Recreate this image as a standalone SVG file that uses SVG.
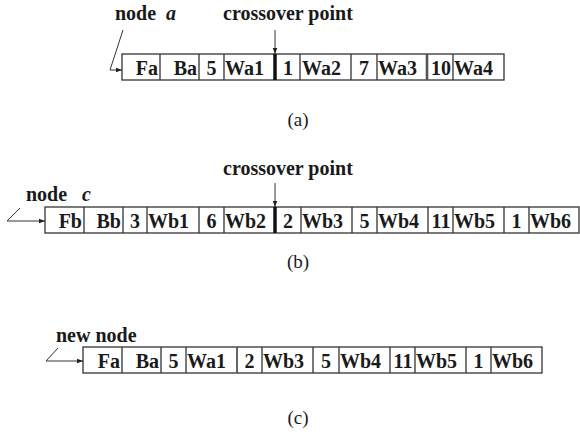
<svg xmlns="http://www.w3.org/2000/svg" width="580" height="437" viewBox="0 0 580 437">
<style>
text{font-family:"Liberation Serif","Times New Roman",serif;font-size:20px;fill:#1a1a1a}
.b{font-weight:bold}
.i{font-style:italic;font-weight:bold}
.e{text-anchor:end}
.m{text-anchor:middle}
.cap{font-size:19px}
.box{fill:#fff;stroke:#333;stroke-width:1.3}
.div{stroke:#333;stroke-width:1.3}
.thick{stroke:#111;stroke-width:3.5}
.dbl{stroke:#555;stroke-width:2.6}
.con{fill:none;stroke:#333;stroke-width:1}
</style>
<defs>
<marker id="ah" viewBox="0 0 8 8" refX="8" refY="4" markerWidth="6" markerHeight="6" orient="auto" markerUnits="userSpaceOnUse">
<path d="M0,1 L8,4 L0,7 z" fill="#222"/>
</marker>
</defs>
<rect width="580" height="437" fill="#fff"/>

<g id="labels">
<text class="b" x="115" y="20">node</text><text class="i" x="166" y="20">a</text>
<text class="b" x="223" y="20">crossover point</text>
<text class="b" x="26" y="201">node</text><text class="i" x="82" y="201">c</text>
<text class="b" x="223" y="175">crossover point</text>
<text class="b" x="56" y="342">new node</text>
<text class="m cap" x="298" y="126">(a)</text>
<text class="m cap" x="298" y="268">(b)</text>
<text class="m cap" x="298" y="424">(c)</text>
</g>

<g id="node-a">
<rect class="box" x="122" y="54" width="382" height="26"/>
<path class="div" d="M160,54V80M199,54V80M224,54V80M300,54V80M351,54V80M377,54V80M453,54V80"/>
<path class="thick" d="M275,54V80"/>
<path class="dbl" d="M427,54V80"/>
<text class="b e" x="158" y="75">Fa</text>
<text class="b e" x="197" y="75">Ba</text>
<text class="b m" x="211.5" y="75">5</text>
<text class="b" x="225" y="75">Wa1</text>
<text class="b m" x="288" y="75">1</text>
<text class="b" x="302" y="75">Wa2</text>
<text class="b m" x="364" y="75">7</text>
<text class="b" x="378" y="75">Wa3</text>
<text class="b m" x="441" y="75">10</text>
<text class="b" x="454" y="75">Wa4</text>
</g>

<g id="node-c">
<rect class="box" x="45" y="207" width="534" height="26"/>
<path class="div" d="M84,207V233M123,207V233M147,207V233M199,207V233M224,207V233M301,207V233M352,207V233M377,207V233M428,207V233M453,207V233M504,207V233M529,207V233"/>
<path class="thick" d="M275,207V233"/>
<text class="b e" x="82" y="228">Fb</text>
<text class="b e" x="121" y="228">Bb</text>
<text class="b m" x="135" y="228">3</text>
<text class="b" x="148" y="228">Wb1</text>
<text class="b m" x="211.5" y="228">6</text>
<text class="b" x="225" y="228">Wb2</text>
<text class="b m" x="288" y="228">2</text>
<text class="b" x="302" y="228">Wb3</text>
<text class="b m" x="364.5" y="228">5</text>
<text class="b" x="378" y="228">Wb4</text>
<text class="b m" x="441" y="228">11</text>
<text class="b" x="454" y="228">Wb5</text>
<text class="b m" x="516.5" y="228">1</text>
<text class="b" x="530" y="228">Wb6</text>
</g>

<g id="new-node">
<rect class="box" x="83" y="347" width="459" height="26"/>
<path class="div" d="M122,347V373M161,347V373M186,347V373M262,347V373M313,347V373M339,347V373M390,347V373M415,347V373M466,347V373M491,347V373"/>
<path class="dbl" d="M237,347V373" style="stroke-width:1.8"/>
<text class="b e" x="120" y="368">Fa</text>
<text class="b e" x="159" y="368">Ba</text>
<text class="b m" x="173.5" y="368">5</text>
<text class="b" x="187" y="368">Wa1</text>
<text class="b m" x="249.5" y="368">2</text>
<text class="b" x="263" y="368">Wb3</text>
<text class="b m" x="326" y="368">5</text>
<text class="b" x="340" y="368">Wb4</text>
<text class="b m" x="403" y="368">11</text>
<text class="b" x="416" y="368">Wb5</text>
<text class="b m" x="478.5" y="368">1</text>
<text class="b" x="492" y="368">Wb6</text>
</g>

<g id="connectors">
<polyline class="con" points="123,30 110,70 122,70" marker-end="url(#ah)"/>
<line class="con" x1="275" y1="30" x2="275" y2="54" marker-end="url(#ah)"/>
<polyline class="con" points="20,208 7,221 45,221" marker-end="url(#ah)"/>
<line class="con" x1="275" y1="183" x2="275" y2="207" marker-end="url(#ah)"/>
<polyline class="con" points="58,348 46,361 83,361" marker-end="url(#ah)"/>
</g>
</svg>
